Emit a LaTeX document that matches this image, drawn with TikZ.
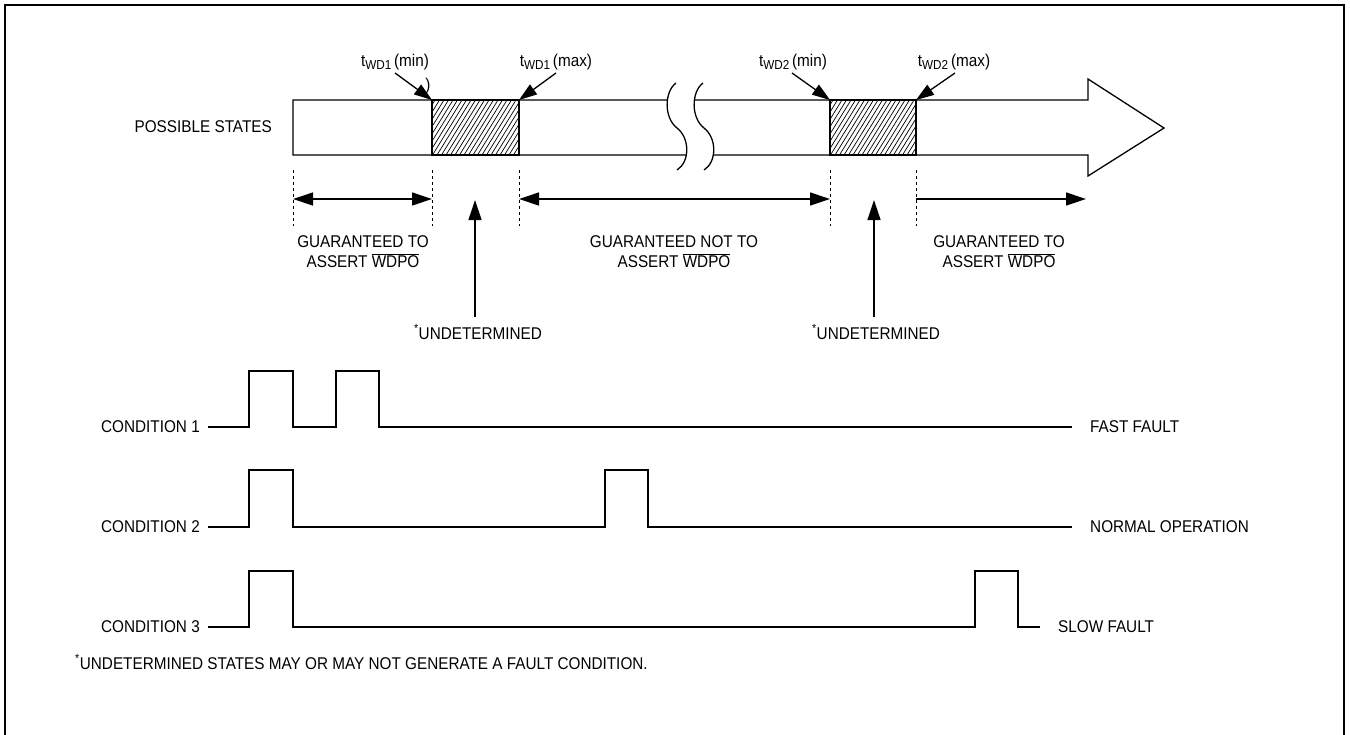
\documentclass[tikz,border=0pt]{standalone}
\usepackage{fontspec}
\setmainfont{Liberation Sans}[FakeStretch=0.9]
\usetikzlibrary{arrows.meta}
\newcommand\ovl[1]{$\overline{\mbox{#1}}$}
\newcommand\tsub[2]{t\raisebox{-3pt}{\fontsize{13}{13}\selectfont #1}\,(#2)}
\begin{document}
\begin{tikzpicture}[x=1pt,y=-1pt,
  lbl/.style={font=\fontsize{17}{20}\selectfont, inner sep=0pt, align=center},
  wire/.style={line width=1.3pt},
  frame/.style={line width=2.6pt},
  dimline/.style={line width=0.9pt, dash pattern=on 3pt off 3pt},
  bigtip/.style={line width=1.3pt, -{Triangle[length=20pt,width=13pt]}},
  dbltip/.style={line width=1.3pt, {Triangle[length=20pt,width=13pt]}-{Triangle[length=20pt,width=13pt]}},
  slanttip/.style={line width=1.3pt, -{Triangle[length=18pt,width=12pt]}},
  hatch/.style={line width=0.7pt}]
\useasboundingbox (0,0) rectangle (1350,734);
% frame
\coordinate (fbl) at (5,740);
\coordinate (ftl) at (5,5);
\coordinate (ftr) at (1344,5);
\coordinate (fbr) at (1344,740);
\draw[frame] (fbl) -- (ftl) -- (ftr) -- (fbr);

% possible states bar
\node[lbl, anchor=east] (ps) at (272,127) {POSSIBLE STATES};
\draw[wire, line join=miter] (293,100) -- (1088,100) -- (1088,79) -- (1164,128) -- (1088,176) -- (1088,155) -- (293,155) -- cycle;

% hatched regions
\begin{scope}
  \clip (432,100) rectangle (519,155);
  \foreach \xx in {392,396.5,...,525} \draw[hatch] (\xx,155) -- ++(34,-55);
\end{scope}
\draw[wire] (432,100) rectangle (519,155);
\begin{scope}
  \clip (830,100) rectangle (916,155);
  \foreach \xx in {790,794.5,...,922} \draw[hatch] (\xx,155) -- ++(34,-55);
\end{scope}
\draw[wire] (830,100) rectangle (916,155);

% break symbol
\fill[white] (676,83) .. controls (664,92) and (664,118) .. (677,128)
  .. controls (690,138) and (690,162) .. (677,170) -- (704,170)
  .. controls (717,162) and (717,138) .. (704,128)
  .. controls (691,118) and (691,92) .. (703,83) -- cycle;
\draw[wire] (676,83) .. controls (664,92) and (664,118) .. (677,128)
  .. controls (690,138) and (690,162) .. (677,170);
\draw[wire] (703,83) .. controls (691,92) and (691,118) .. (704,128)
  .. controls (717,138) and (717,162) .. (704,170);

% t labels
\node[lbl, anchor=center] (t1min) at (395,62) {\tsub{WD1}{min}};
\node[lbl] (stray) at (428,86) {)};
\node[lbl, anchor=center] (t1max) at (556,62) {\tsub{WD1}{max}};
\node[lbl, anchor=center] (t2min) at (793,62) {\tsub{WD2}{min}};
\node[lbl, anchor=center] (t2max) at (954,62) {\tsub{WD2}{max}};
\coordinate (a1s) at (395,73); \coordinate (a1e) at (432,100);
\coordinate (a2s) at (556,73); \coordinate (a2e) at (519,100);
\coordinate (a3s) at (792,73); \coordinate (a3e) at (830,100);
\coordinate (a4s) at (955,73); \coordinate (a4e) at (916,100);
\draw[slanttip] (a1s) -- (a1e);
\draw[slanttip] (a2s) -- (a2e);
\draw[slanttip] (a3s) -- (a3e);
\draw[slanttip] (a4s) -- (a4e);

% dashed verticals
\foreach \xx in {293,432,519,830,916} \draw[dimline] (\xx,170) -- (\xx,226);

% dimension arrows
\coordinate (d1a) at (293,199); \coordinate (d1b) at (432,199);
\coordinate (d2a) at (519,199); \coordinate (d2b) at (830,199);
\coordinate (d3a) at (916,199); \coordinate (d3b) at (1086,199);
\draw[dbltip] (d1a) -- (d1b);
\draw[dbltip] (d2a) -- (d2b);
\draw[bigtip] (d3a) -- (d3b);

\node[lbl] (g1) at (363,252) {GUARANTEED TO\\ASSERT \ovl{WDPO}};
\node[lbl] (g2) at (674,252) {GUARANTEED NOT TO\\ASSERT \ovl{WDPO}};
\node[lbl] (g3) at (999,252) {GUARANTEED TO\\ASSERT \ovl{WDPO}};

% undetermined arrows
\node[lbl, anchor=center] (u1) at (478,332) {\textsuperscript{*}UNDETERMINED};
\node[lbl, anchor=center] (u2) at (876,332) {\textsuperscript{*}UNDETERMINED};
\coordinate (u1s) at (475,317); \coordinate (u1e) at (475,200);
\coordinate (u2s) at (874,317); \coordinate (u2e) at (874,200);
\draw[bigtip] (u1s) -- (u1e);
\draw[bigtip] (u2s) -- (u2e);

% conditions
\node[lbl, anchor=east] (c1) at (200,427) {CONDITION 1};
\node[lbl, anchor=east] (c2) at (200,527) {CONDITION 2};
\node[lbl, anchor=east] (c3) at (200,627) {CONDITION 3};
\node[lbl, anchor=west] (r1) at (1090,427) {FAST FAULT};
\node[lbl, anchor=west] (r2) at (1090,527) {NORMAL OPERATION};
\node[lbl, anchor=west] (r3) at (1058,627) {SLOW FAULT};
\coordinate (c1s) at (208,427); \coordinate (c1e) at (1072,427);
\coordinate (c2s) at (208,527); \coordinate (c2e) at (1072,527);
\coordinate (c3s) at (208,627); \coordinate (c3e) at (1040,627);
\draw[wire, line join=miter] (c1s) -- (249,427) -- (249,371) -- (293,371) -- (293,427) -- (336,427) -- (336,371) -- (379,371) -- (379,427) -- (c1e);
\draw[wire, line join=miter] (c2s) -- (249,527) -- (249,470) -- (293,470) -- (293,527) -- (605,527) -- (605,470) -- (648,470) -- (648,527) -- (c2e);
\draw[wire, line join=miter] (c3s) -- (249,627) -- (249,571) -- (293,571) -- (293,627) -- (975,627) -- (975,571) -- (1018,571) -- (1018,627) -- (c3e);

% footnote
\node[lbl, anchor=west] (fn) at (75,662) {\textsuperscript{*}UNDETERMINED STATES MAY OR MAY NOT GENERATE A FAULT CONDITION.};
\end{tikzpicture}
\end{document}
